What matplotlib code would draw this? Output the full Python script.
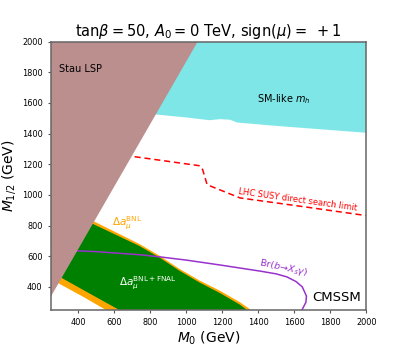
import matplotlib
matplotlib.use("Agg")
import matplotlib.pyplot as plt
import numpy as np

# ---- data ----
xlim = (250, 2000)
ylim = (250, 2000)

# Stau LSP boundary (left of this line)
stau_x = [250, 1065]
stau_y = [337, 2000]

# SM-like m_h region lower boundary (cyan above)
mh_x = [700, 825, 1000, 1130, 1188, 1244, 1283, 1500, 2000]
mh_y = [1540, 1525, 1505, 1487, 1494, 1490, 1472, 1450, 1405]

# LHC SUSY direct search limit (red dashed)
lhc_x = [660, 1076, 1092, 1117, 1300, 1640, 2000]
lhc_y = [1258, 1190, 1165, 1066, 980, 925, 865]

# Delta a_mu BNL band (orange): upper and lower outer boundaries
bnl_up_x = [380, 470, 741, 853, 964, 1076, 1188, 1299, 1360]
bnl_up_y = [880, 838, 680, 603, 517, 441, 375, 300, 250]
bnl_lo_x = [250, 290, 430, 555]
bnl_lo_y = [455, 425, 335, 250]

# Delta a_mu BNL+FNAL region (green)
fnal_up_x = [380, 470, 741, 853, 964, 1076, 1188, 1299, 1338]
fnal_up_y = [862, 818, 667, 591, 505, 428, 360, 284, 250]
fnal_lo_x = [250, 300, 460, 629]
fnal_lo_y = [500, 465, 360, 250]

# Br(b -> X_s gamma) (purple)
bsg_x = [370, 500, 741, 853, 1000, 1188, 1411, 1500, 1560, 1610, 1645, 1668, 1665, 1644]
bsg_y = [637, 630, 610, 596, 575, 543, 503, 485, 465, 435, 400, 340, 300, 252]

title = r'tan$\beta = 50$, $A_0 = 0$ TeV, sign$(\mu) =\ +1$'
xticks = [400, 600, 800, 1000, 1200, 1400, 1600, 1800, 2000]
yticks = [400, 600, 800, 1000, 1200, 1400, 1600, 1800, 2000]

# ---- figure ----
fig, ax = plt.subplots(figsize=(4.07, 3.49), dpi=100)

cyan = '#7fe6e8'
brown = '#bc8f8f'

# cyan SM-like m_h region
cx = list(mh_x) + [2000, mh_x[0]]
cy = list(mh_y) + [2000, 2000]
ax.fill(cx, cy, color=cyan, lw=0, zorder=1)

# orange BNL band
ox = list(bnl_up_x) + list(bnl_lo_x[::-1])
oy = list(bnl_up_y) + list(bnl_lo_y[::-1])
ax.fill(ox, oy, color='orange', lw=0, zorder=2)

# green BNL+FNAL
gx = list(fnal_up_x) + list(fnal_lo_x[::-1])
gy = list(fnal_up_y) + list(fnal_lo_y[::-1])
ax.fill(gx, gy, color='green', lw=0, zorder=3)

# purple b->s gamma
ax.plot(bsg_x, bsg_y, color='darkorchid', lw=1.1, zorder=4)

# red dashed LHC
ax.plot(lhc_x, lhc_y, color='red', lw=1.1, ls=(0, (4, 2.5)), zorder=4)

# brown stau LSP region
sx = [stau_x[0], stau_x[1], 250]
sy = [stau_y[0], stau_y[1], 2000]
ax.fill(sx, sy, color=brown, lw=0, zorder=5)

# ---- labels ----
ax.text(294, 1822, 'Stau LSP', fontsize=7, ha='left', va='center', zorder=6)
ax.text(1545, 1626, r'SM-like $m_h$', fontsize=7, ha='center', va='center', zorder=6)
ax.text(1618, 969, 'LHC SUSY direct search limit', fontsize=6, color='red',
        rotation=-8, ha='center', va='center', rotation_mode='anchor', zorder=6)
ax.text(1540, 526, r'Br($b\!\to\!X_s\gamma$)', fontsize=6.8, color='darkorchid',
        rotation=-12, ha='center', va='center', rotation_mode='anchor', zorder=6)
ax.text(671, 812, r'$\Delta a_\mu^{\mathrm{BNL}}$', fontsize=7.5, color='orange',
        ha='center', va='center', zorder=6)
ax.text(788, 425, r'$\Delta a_\mu^{\mathrm{BNL+FNAL}}$', fontsize=7.5, color='white',
        ha='center', va='center', zorder=6)
ax.text(1836, 330, 'CMSSM', fontsize=9.5, ha='center', va='center', zorder=6)

ax.set_xlim(*xlim)
ax.set_ylim(*ylim)
ax.set_xticks(xticks)
ax.set_yticks(yticks)
ax.tick_params(labelsize=5.9, length=2.5, width=0.8, color='#555555')
for s in ax.spines.values():
    s.set_color('#666666')
    s.set_linewidth(1.1)
    s.set_zorder(10)

ax.set_xlabel(r'$M_0$ (GeV)', fontsize=10, labelpad=2)
ax.set_ylabel(r'$M_{1/2}$ (GeV)', fontsize=10, labelpad=3)
ax.set_title(title, fontsize=10.5, pad=4)

fig.subplots_adjust(left=0.125, right=0.9, top=0.881, bottom=0.112)
fig.savefig('out.png', dpi=100)
